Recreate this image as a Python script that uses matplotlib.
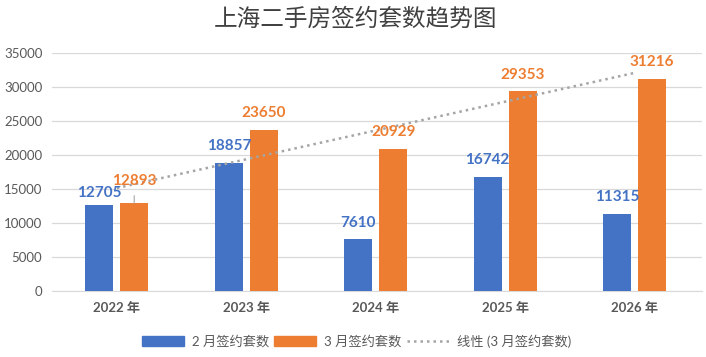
import numpy as np
import matplotlib
matplotlib.use("Agg")
import matplotlib.pyplot as plt
from matplotlib.lines import Line2D
from matplotlib.patches import Patch

plt.rcParams['font.family'] = ['Lato', 'Noto Sans CJK SC', 'DejaVu Sans']

years = ['2022 年', '2023 年', '2024 年', '2025 年', '2026 年']
feb = [12705, 18857, 7610, 16742, 11315]
mar = [12893, 23650, 20929, 29353, 31216]

blue = '#4472C4'
orange = '#ED7D31'
gray = '#595959'

fig = plt.figure(figsize=(7.06, 3.57), dpi=100)
ax = fig.add_axes([52 / 706, 66 / 357, 650 / 706, 238 / 357])

x = np.arange(len(years))
w = 0.216
off = 0.135
ax.bar(x - off, feb, w, color=blue, zorder=3)
ax.bar(x + off, mar, w, color=orange, zorder=3)

# linear trend of March values
k, b = np.polyfit(x, mar, 1)
ax.plot(x, k * x + b, color='#A5A5A5', lw=1.8, ls=(0, (1, 1.6)), zorder=4)

lab_font = dict(fontsize=11, fontweight='bold', ha='center', va='bottom', zorder=5)
for i in range(len(years)):
    dy = 3 if i == 0 else 7
    ax.annotate(str(feb[i]), (x[i] - off, feb[i]), xytext=(0, dy),
                textcoords='offset points', color=blue, **lab_font)
    if i == 0:
        # label pulled up with a leader line
        ax.annotate(str(mar[i]), (x[i] + off, mar[i]), xytext=(0, 11),
                    textcoords='offset points', color=orange,
                    arrowprops=dict(arrowstyle='-', color='#A6A6A6', lw=0.8,
                                    shrinkA=3.5, shrinkB=0), **lab_font)
    else:
        ax.annotate(str(mar[i]), (x[i] + off, mar[i]), xytext=(0, 7),
                    textcoords='offset points', color=orange, **lab_font)

ax.set_xlim(-0.5, 4.52)
ax.set_ylim(0, 35000)
ax.set_yticks(range(0, 35001, 5000))
ax.yaxis.grid(True, color='#D9D9D9', lw=0.9, zorder=0)
ax.set_axisbelow(True)
for s in ['top', 'right', 'left']:
    ax.spines[s].set_visible(False)
ax.spines['bottom'].set_color('#D9D9D9')
ax.tick_params(axis='both', length=0, colors=gray, labelsize=9.5)
ax.tick_params(axis='y', pad=7)
ax.tick_params(axis='x', pad=8)
ax.set_xticks(x)
ax.set_xticklabels(years, fontweight='bold')

fig.text(0.504, 0.945, '上海二手房签约套数趋势图', ha='center', va='center',
         fontsize=17, fontweight='medium', color='#404040',
         family=['Noto Sans CJK SC'])

handles = [Patch(color=blue), Patch(color=orange),
           Line2D([], [], color='#A5A5A5', lw=1.8, ls=(0, (1, 1.6)))]
labels = ['2 月签约套数', '3 月签约套数', '线性 (3 月签约套数)']
fig.legend(handles, labels, loc='center', bbox_to_anchor=(0.505, 0.045), ncol=3,
           frameon=False, fontsize=9.5, labelcolor=gray, handlelength=3.2,
           handleheight=0.7, handletextpad=0.6, columnspacing=0.4)

fig.savefig('out.png', dpi=100)
